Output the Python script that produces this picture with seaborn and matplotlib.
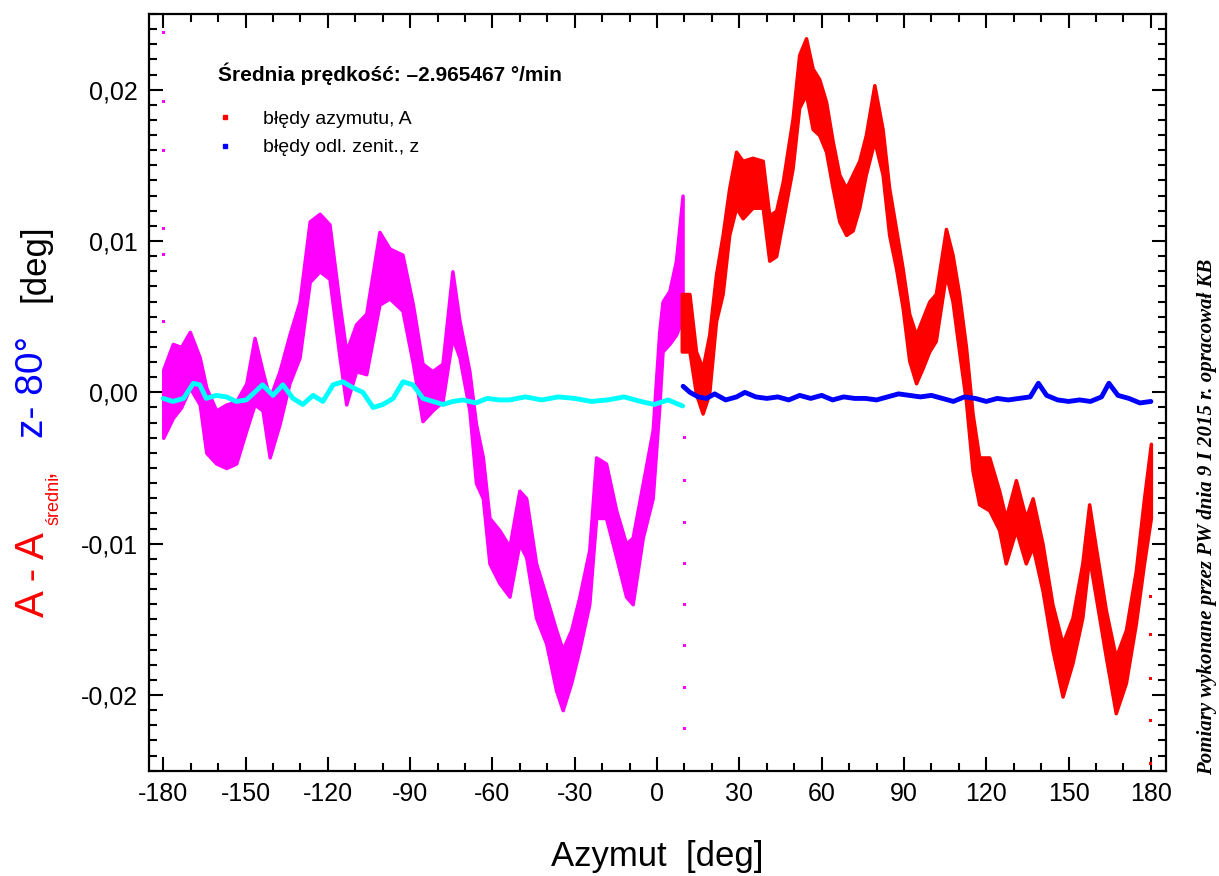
import numpy as np
import pandas as pd
import matplotlib
matplotlib.use('Agg')
import matplotlib.pyplot as plt
import seaborn as sns
from matplotlib.ticker import MultipleLocator, FuncFormatter
from matplotlib.lines import Line2D

# pasmo bledow azymutu (magenta: -180..10, czerwone: 10..180) - dolna i gorna granica
mag_x = [-180.0, -176.5, -173.5, -170.3, -166.7, -164.3, -160.7, -157.0, -153.4, -149.7,
         -146.7, -143.8, -141.2, -137.6, -134.0, -130.3, -126.6, -123.0, -119.4, -115.7,
         -113.3, -109.7, -106.0, -101.2, -97.5, -92.8, -89.0, -85.5, -81.9, -78.2,
         -74.6, -72.0, -68.4, -66.0, -63.5, -61.1, -57.5, -53.8, -50.2, -47.7,
         -44.1, -40.4, -36.8, -34.4, -31.3, -28.3, -24.7, -22.2, -18.6, -14.9,
         -11.3, -8.9, -5.2, -1.6, 0.8, 2.0, 4.5, 6.9, 9.3]
mag_lo = [-0.0030, -0.0017, -0.0010, 0.0003, -0.0008, -0.0040, -0.0047, -0.0050, -0.0047, -0.0025,
          -0.0008, -0.0012, -0.0043, -0.0021, 0.0006, 0.0023, 0.0073, 0.0080, 0.0075, 0.0023,
          -0.0008, 0.0014, 0.0012, 0.0058, 0.0062, 0.0054, 0.0019, -0.0019, -0.0012, -0.0006,
          0.0036, 0.0023, -0.0012, -0.0060, -0.0070, -0.0113, -0.0126, -0.0135, -0.0100, -0.0109,
          -0.0149, -0.0166, -0.0197, -0.0210, -0.0192, -0.0170, -0.0140, -0.0083, -0.0083, -0.0109,
          -0.0135, -0.0140, -0.0096, -0.0070, -0.0010, 0.0027, 0.0032, 0.0038, 0.0049]
mag_hi = [0.0015, 0.0032, 0.0030, 0.0040, 0.0023, 0.0003, -0.0012, -0.0008, -0.0006, 0.0006,
          0.0036, 0.0014, -0.0004, 0.0014, 0.0038, 0.0060, 0.0113, 0.0118, 0.0111, 0.0058,
          0.0027, 0.0045, 0.0052, 0.0106, 0.0095, 0.0091, 0.0058, 0.0019, 0.0014, 0.0019,
          0.0080, 0.0047, 0.0014, -0.0021, -0.0043, -0.0083, -0.0091, -0.0102, -0.0065, -0.0070,
          -0.0113, -0.0135, -0.0157, -0.0170, -0.0157, -0.0135, -0.0104, -0.0043, -0.0047, -0.0078,
          -0.0100, -0.0096, -0.0060, -0.0025, 0.0040, 0.0060, 0.0067, 0.0087, 0.0130]

red_x = [9.0, 11.8, 14.2, 16.6, 19.0, 21.5, 23.9, 26.3, 28.8, 31.2,
         34.8, 38.5, 40.9, 43.4, 45.8, 49.4, 51.8, 54.3, 56.7, 59.1,
         61.6, 64.0, 66.4, 68.9, 71.3, 73.7, 76.1, 79.2, 82.2, 84.6,
         87.1, 89.5, 91.9, 94.4, 96.8, 99.2, 101.6, 105.3, 107.7, 110.1,
         112.6, 115.0, 117.4, 121.1, 124.7, 127.1, 130.8, 134.4, 136.9, 140.5,
         144.1, 147.8, 151.4, 155.0, 157.5, 159.9, 163.6, 167.2, 170.9, 174.5,
         177.5, 180.0]
red_lo = [0.0027, 0.0027, -0.0001, -0.0014, -0.0001, 0.0047, 0.0065, 0.0104, 0.0122, 0.0115,
          0.0122, 0.0122, 0.0087, 0.0090, 0.0113, 0.0148, 0.0188, 0.0197, 0.0174, 0.0170,
          0.0159, 0.0135, 0.0113, 0.0104, 0.0107, 0.0122, 0.0144, 0.0166, 0.0144, 0.0104,
          0.0082, 0.0056, 0.0021, 0.0006, 0.0016, 0.0027, 0.0034, 0.0078, 0.0060, 0.0027,
          -0.0006, -0.0052, -0.0074, -0.0078, -0.0091, -0.0113, -0.0091, -0.0113, -0.0102, -0.0131,
          -0.0170, -0.0201, -0.0179, -0.0149, -0.0109, -0.0135, -0.0175, -0.0212, -0.0192, -0.0153,
          -0.0113, -0.0083]
red_hi = [0.0065, 0.0065, 0.0027, 0.0016, 0.0038, 0.0078, 0.0104, 0.0135, 0.0159, 0.0153,
          0.0155, 0.0153, 0.0117, 0.0120, 0.0139, 0.0181, 0.0223, 0.0234, 0.0214, 0.0207,
          0.0192, 0.0166, 0.0144, 0.0135, 0.0144, 0.0153, 0.0170, 0.0203, 0.0174, 0.0135,
          0.0108, 0.0082, 0.0052, 0.0038, 0.0049, 0.0060, 0.0065, 0.0108, 0.0091, 0.0065,
          0.0030, -0.0014, -0.0043, -0.0043, -0.0065, -0.0083, -0.0058, -0.0083, -0.0070, -0.0100,
          -0.0140, -0.0166, -0.0149, -0.0113, -0.0074, -0.0102, -0.0144, -0.0175, -0.0157, -0.0118,
          -0.0070, -0.0034]

# bledy odleglosci zenitalnej (cyan: -180..10, niebieskie: 10..180)
cyan_x = [-180.0, -176.5, -172.6, -169.0, -166.7, -164.3, -160.7, -157.0, -153.4, -149.7,
          -146.7, -143.8, -140.0, -136.4, -132.7, -129.1, -125.4, -121.8, -118.1, -114.5,
          -110.8, -107.2, -103.5, -99.9, -96.2, -92.6, -89.0, -85.3, -81.7, -78.0,
          -74.4, -70.7, -66.0, -62.0, -57.5, -53.8, -48.0, -42.0, -36.0, -30.0,
          -24.0, -18.0, -12.0, -6.0, -1.0, 4.0, 9.3]
cyan_y = [-0.0004, -0.0006, -0.0004, 0.0006, 0.0005, -0.0004, -0.0002, -0.0003, -0.0006, -0.0005,
          0.0000, 0.0005, -0.0002, 0.0005, -0.0004, -0.0008, -0.0002, -0.0006, 0.0005, 0.0007,
          0.0003, 0.0000, -0.0010, -0.0008, -0.0004, 0.0007, 0.0005, -0.0004, -0.0006, -0.0008,
          -0.0006, -0.0005, -0.0007, -0.0004, -0.0005, -0.0005, -0.0003, -0.0005, -0.0003, -0.0004,
          -0.0006, -0.0005, -0.0003, -0.0006, -0.0008, -0.0005, -0.0009]

blue_x = [9.5, 12.0, 15.0, 18.0, 21.0, 25.0, 29.0, 32.0, 36.0, 40.0,
          44.0, 48.0, 52.0, 56.0, 60.0, 64.0, 68.0, 72.0, 76.0, 80.0,
          84.0, 88.0, 92.0, 96.0, 100.0, 104.0, 108.0, 112.0, 116.0, 120.0,
          124.0, 128.0, 132.0, 136.0, 139.0, 142.0, 146.0, 150.0, 154.0, 158.0,
          162.0, 164.7, 168.0, 172.0, 176.0, 180.0]
blue_y = [0.0004, 0.0000, -0.0003, -0.0004, -0.0001, -0.0005, -0.0003, 0.0000, -0.0003, -0.0004,
          -0.0003, -0.0005, -0.0002, -0.0004, -0.0002, -0.0005, -0.0003, -0.0004, -0.0004, -0.0005,
          -0.0003, -0.0001, -0.0002, -0.0003, -0.0002, -0.0004, -0.0006, -0.0003, -0.0004, -0.0006,
          -0.0004, -0.0005, -0.0004, -0.0003, 0.0006, -0.0002, -0.0005, -0.0006, -0.0005, -0.0006,
          -0.0003, 0.0006, -0.0002, -0.0004, -0.0007, -0.0006]

# pojedyncze punkty odstajace
mag_out_x = [10.0, 10.0, 10.0, 10.0, 10.0, 10.0, 10.0, 10.0, -180.0, -180.0, -180.0, -180.0, -180.0, -180.0]
mag_out_y = [-0.0030, -0.0058, -0.0086, -0.0113, -0.0140, -0.0167, -0.0195, -0.0222,
             0.0238, 0.0192, 0.0160, 0.0108, 0.0091, 0.0047]
red_out_x = [180.0, 180.0, 180.0, 180.0, 180.0]
red_out_y = [-0.0135, -0.0160, -0.0189, -0.0217, -0.0245]

MAGENTA = '#ff00ff'
RED = '#ff0000'
CYAN = '#00ffff'
BLUE = '#0000ff'

sns.set_style('ticks')
plt.rcParams['font.family'] = ['Liberation Sans', 'DejaVu Sans']
plt.rcParams['text.color'] = 'black'
plt.rcParams['axes.labelcolor'] = 'black'
plt.rcParams['xtick.color'] = 'black'
plt.rcParams['ytick.color'] = 'black'

fig = plt.figure(figsize=(12.19, 8.76), dpi=100)
ax = fig.add_axes([0.1222, 0.1202, 0.8343, 0.8638])

ax.fill_between(mag_x, mag_lo, mag_hi, color=MAGENTA, linewidth=2.5, edgecolor=MAGENTA)
ax.fill_between(red_x, red_lo, red_hi, color=RED, linewidth=2.5, edgecolor=RED)

df_out = pd.DataFrame({'x': mag_out_x + red_out_x, 'y': mag_out_y + red_out_y,
                       'seria': ['A'] * len(mag_out_x) + ['R'] * len(red_out_x)})
sns.scatterplot(data=df_out, x='x', y='y', hue='seria', palette={'A': MAGENTA, 'R': RED},
                s=5, marker='s', linewidth=0, legend=False, ax=ax)

sns.lineplot(x=cyan_x, y=cyan_y, color=CYAN, linewidth=3.5, sort=False, estimator=None, ax=ax)
sns.lineplot(x=blue_x, y=blue_y, color=BLUE, linewidth=3.5, sort=False, estimator=None, ax=ax)

ax.set_xlim(-185.2, 185.5)
ax.set_ylim(-0.025, 0.025)
ax.xaxis.set_major_locator(MultipleLocator(30))
ax.xaxis.set_minor_locator(MultipleLocator(10))
ax.yaxis.set_major_locator(MultipleLocator(0.01))
ax.yaxis.set_minor_locator(MultipleLocator(0.001))
ax.xaxis.set_major_formatter(FuncFormatter(lambda v, p: '%d' % round(v)))
ax.yaxis.set_major_formatter(FuncFormatter(lambda v, p: ('%.2f' % v).replace('.', ',').replace('-0,00', '0,00')))

ax.tick_params(which='both', direction='in', top=True, right=True, width=1.5, color='black')
ax.tick_params(which='major', length=10, labelsize=18, pad=8)
ax.tick_params(which='minor', length=5.5)
for sp in ax.spines.values():
    sp.set_linewidth(1.6)
    sp.set_color('black')

ax.set_xlabel('Azymut  [deg]', fontsize=25)
ax.xaxis.set_label_coords(0.5, -0.114)
ax.xaxis.label.set_va('center')
ax.set_ylabel('')

# opis osi Y w kilku kolorach
fig.text(33 / 1219, 259 / 876, 'A - A', color=RED, fontsize=29, rotation=90, ha='center', va='bottom')
fig.text(54 / 1219, 351 / 876, 'średni', color=RED, fontsize=13, rotation=90, ha='center', va='bottom')
fig.text(45 / 1219, 399 / 876, ',', color=RED, fontsize=20, rotation=90, ha='center', va='bottom')
fig.text(33 / 1219, 438 / 876, 'z- 80°', color=BLUE, fontsize=28, rotation=90, ha='center', va='bottom')
fig.text(35 / 1219, 574 / 876, '[deg]', color='black', fontsize=25, rotation=90, ha='center', va='bottom')

ax.text(0.0678, 0.9207, 'Średnia prędkość: –2.965467 °/min', transform=ax.transAxes,
        fontsize=15, fontweight='bold', ha='left', va='center')
handles = [Line2D([], [], linestyle='none', marker='s', markersize=2.2, color=RED),
           Line2D([], [], linestyle='none', marker='s', markersize=2.2, color=BLUE)]
ax.legend(handles, ['błędy azymutu, A', 'błędy odl. zenit., z'], loc='upper left',
          bbox_to_anchor=(0.0667, 0.8725), frameon=False, fontsize=14, borderpad=0,
          borderaxespad=0, handlelength=0.8, handletextpad=1.6, labelspacing=0.55)

fig.text(1207 / 1219, 101 / 876, 'Pomiary wykonane przez PW dnia 9 I 2015 r. opracował KB',
         rotation=90, ha='center', va='bottom', fontsize=15, style='italic', fontweight='bold',
         family=['Liberation Serif', 'DejaVu Serif'])

fig.savefig('out.png', dpi=100, facecolor='white')
